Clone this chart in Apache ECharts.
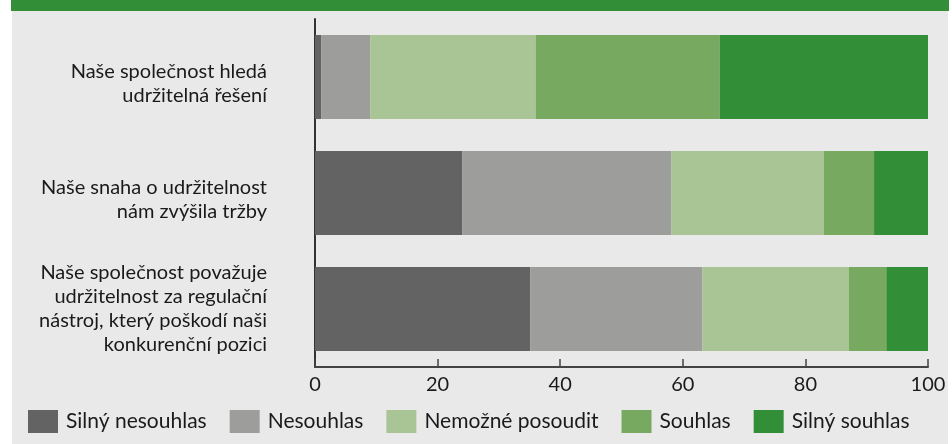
<!DOCTYPE html>
<html>
<head>
<meta charset="utf-8">
<script src="https://cdn.jsdelivr.net/npm/echarts@6/dist/echarts.min.js"></script>
<style>
html,body{margin:0;padding:0;background:#ffffff;}
#chart{width:952px;height:444px;}
</style>
</head>
<body>
<div id="chart"></div>
<script>
const categories = [
  "Naše společnost hledá\nudržitelná řešení",
  "Naše snaha o udržitelnost\nnám zvýšila tržby",
  "Naše společnost považuje\nudržitelnost za regulační\nnástroj, který poškodí naši\nkonkurenční pozici"
];
const seriesNames = ["Silný nesouhlas", "Nesouhlas", "Nemožné posoudit", "Souhlas", "Silný souhlas"];
const silnyNesouhlas = [1.0, 24.0, 35.1];
const nesouhlas = [8.0, 34.1, 28.1];
const nemoznePosoudit = [27.0, 24.9, 23.9];
const souhlas = [30.0, 8.2, 6.1];
const silnySouhlas = [34.0, 8.8, 6.8];
const xTicks = [0, 20, 40, 60, 80, 100];

const colors = ["#636363", "#9d9d9b", "#a9c595", "#78a960", "#338f37"];
const FONT = "Lato";
const values = [silnyNesouhlas, nesouhlas, nemoznePosoudit, souhlas, silnySouhlas];

const chart = echarts.init(document.getElementById('chart'), null, {renderer: 'canvas'});
chart.setOption({
  animation: false,
  graphic: {
    elements: [
      {type: 'rect', silent: true, z: -100, shape: {x: 11, y: 0, width: 938, height: 11}, style: {fill: '#338f37'}},
      {type: 'rect', silent: true, z: -100, shape: {x: 12, y: 11, width: 936, height: 433}, style: {fill: '#e9e9e9'}}
    ]
  },
  grid: {left: 315, right: 24, top: 19, bottom: 77, containLabel: false},
  legend: {
    left: 28, top: 410, padding: 0,
    itemWidth: 30, itemHeight: 23, itemGap: 23,
    icon: 'rect',
    textStyle: {fontFamily: FONT, fontSize: 21, color: '#1a1a1a', padding: [0, 0, 0, 3]},
    data: seriesNames
  },
  xAxis: {
    type: 'value', min: 0, max: 100, interval: 20,
    axisLine: {show: true, lineStyle: {color: '#444', width: 2}},
    axisTick: {show: true, inside: true, length: 8, lineStyle: {color: '#444', width: 1.5}},
    splitLine: {show: false},
    axisLabel: {fontFamily: FONT, fontSize: 20, color: '#1a1a1a', margin: 8,
      formatter: v => xTicks.indexOf(v) >= 0 ? String(v) : ''}
  },
  yAxis: {
    type: 'category', inverse: true, data: categories,
    axisLine: {show: true, lineStyle: {color: '#333', width: 2}},
    axisTick: {show: false},
    axisLabel: {
      fontFamily: FONT, fontSize: 20, color: '#1a1a1a', margin: 48, lineHeight: 24, align: 'right',
      // two-line labels sit slightly below the bar centre in the original
      formatter: v => (v.split('\n').length < 4 ? '{g|}\n' : '') +
        v.split('\n').map(l => '{t|' + l + '}').join('\n'),
      rich: {
        g: {fontSize: 1, lineHeight: 14},
        t: {fontFamily: FONT, fontSize: 20, color: '#1a1a1a', lineHeight: 24, align: 'right'}
      }
    }
  },
  series: seriesNames.map((n, i) => ({
    name: n, type: 'bar', stack: 'total', barWidth: 84,
    itemStyle: {color: colors[i]},
    data: values[i]
  }))
});
</script>
</body>
</html>
